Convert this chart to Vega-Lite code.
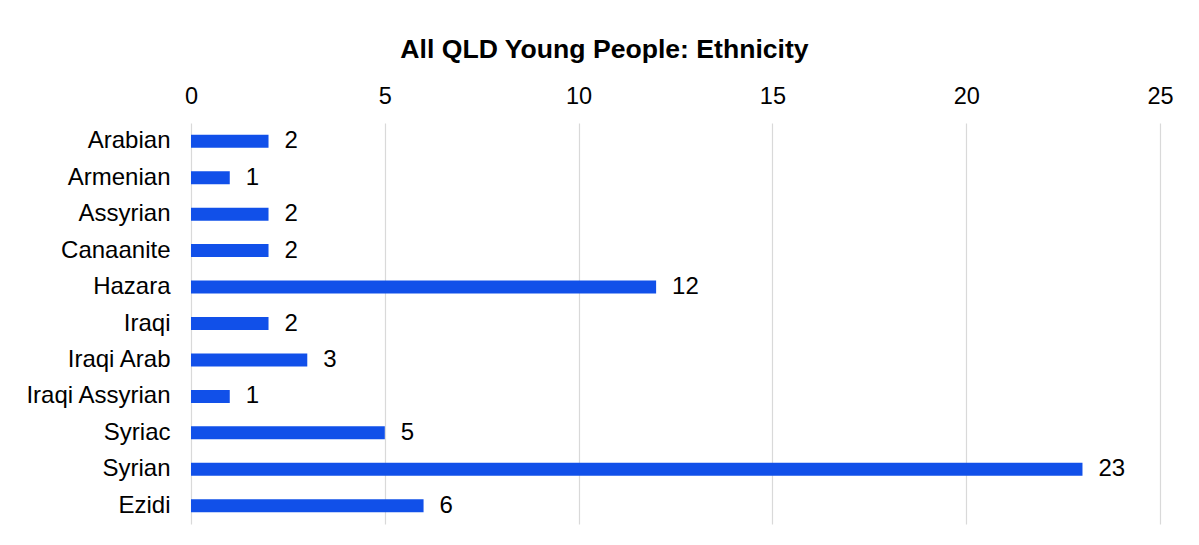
{
  "$schema": "https://vega.github.io/schema/vega-lite/v6.json",
  "width": 969,
  "height": 401,
  "autosize": {"type": "none"},
  "padding": {"left": 191, "top": 123, "right": 39, "bottom": 21},
  "background": "white",
  "config": {"view": {"stroke": null}, "font": "Liberation Sans"},
  "title": {
    "text": "All QLD Young People: Ethnicity",
    "fontSize": 26.6,
    "fontWeight": "bold",
    "font": "Liberation Sans",
    "color": "#000000",
    "anchor": "middle",
    "dx": -71,
    "offset": 20
  },
  "data": {
    "values": [
      {"ethnicity": "Arabian", "count": 2},
      {"ethnicity": "Armenian", "count": 1},
      {"ethnicity": "Assyrian", "count": 2},
      {"ethnicity": "Canaanite", "count": 2},
      {"ethnicity": "Hazara", "count": 12},
      {"ethnicity": "Iraqi", "count": 2},
      {"ethnicity": "Iraqi Arab", "count": 3},
      {"ethnicity": "Iraqi Assyrian", "count": 1},
      {"ethnicity": "Syriac", "count": 5},
      {"ethnicity": "Syrian", "count": 23},
      {"ethnicity": "Ezidi", "count": 6}
    ]
  },
  "encoding": {
    "y": {
      "field": "ethnicity",
      "type": "nominal",
      "sort": null,
      "scale": {"paddingInner": 0, "paddingOuter": 0},
      "axis": {
        "title": null,
        "ticks": false,
        "domain": false,
        "labelFontSize": 24,
        "labelPadding": 21,
        "labelColor": "#000000",
        "labelFont": "Liberation Sans"
      }
    }
  },
  "layer": [
    {
      "mark": {"type": "bar", "size": 13, "color": "#1150E9"},
      "encoding": {
        "x": {
          "field": "count",
          "type": "quantitative",
          "scale": {"domain": [0, 25], "nice": false, "zero": true},
          "axis": {
            "orient": "top",
            "title": null,
            "values": [0, 5, 10, 15, 20, 25],
            "grid": true,
            "gridColor": "#D9D9D9",
            "gridWidth": 1.2,
            "domain": false,
            "ticks": false,
            "labelFlush": false,
            "labelFontSize": 23.5,
            "labelPadding": 15,
            "labelColor": "#000000",
            "labelFont": "Liberation Sans"
          }
        }
      }
    },
    {
      "mark": {
        "type": "text",
        "align": "left",
        "baseline": "middle",
        "dx": 16,
        "fontSize": 24,
        "font": "Liberation Sans",
        "color": "#000000"
      },
      "encoding": {
        "x": {"field": "count", "type": "quantitative"},
        "text": {"field": "count", "type": "quantitative"}
      }
    }
  ]
}
